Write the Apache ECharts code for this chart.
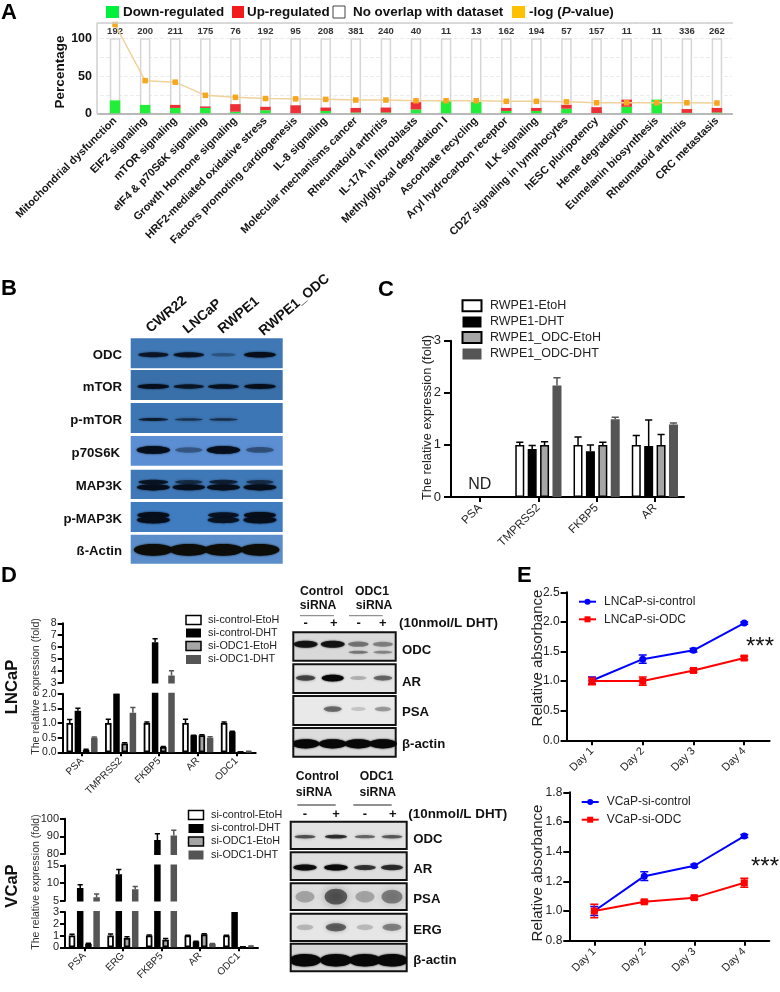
<!DOCTYPE html>
<html><head><meta charset="utf-8">
<script src="https://cdn.jsdelivr.net/npm/echarts@6/dist/echarts.min.js"></script>
<style>html,body{margin:0;padding:0;background:#fff}#c{width:780px;height:992px}</style>
</head><body><div id="c"></div>
<script>
// ---------- Panel A data
const pathways=["Mitochondrial dysfunction","EIF2 signaling","mTOR signaling","eIF4 & p70S6K signaling","Growth Hormone signaling","HRF2-mediated oxidative stress","Factors promoting cardiogenesis","IL-8 signaling","Molecular mechanisms cancer","Rheumatoid arthritis","IL-17A in fibroblasts","Methylglyoxal degradation I","Ascorbate recycling","Aryl hydrocarbon receptor","ILK signaling","CD27 signaling in lymphocytes","hESC pluripotency","Heme degradation","Eumelanin biosynthesis","Rheumatoid arthritis ","CRC metastasis"];
const pathwayCounts=[192,200,211,175,76,192,95,208,381,240,40,11,13,162,194,57,157,11,11,336,262];
const downReg=[18,12,8,8,3,5,0.5,4,2,2,6,18.5,16,4,4,7,1,9.5,19,1.5,2];
const upReg=[0,0,4,2,10,4.5,11,4.5,6,6.5,9.5,0,0,4,4,5,8,9.5,0,5,6];
const logP=[118,44,42,24.6,22,20.4,20,19.3,18.4,18.4,17.5,17.5,17.5,16.7,16.7,16,14.8,14.8,14.8,14.8,14.5];
// ---------- Panel C data
const cGenes=["PSA","TMPRSS2","FKBP5","AR"];
const cEtoh=[null,1,1,1], cDht=[null,0.92,0.88,0.98], cOdcEtoh=[null,1,1,1], cOdcDht=[null,2.14,1.49,1.39];
const cEtohErr=[null,1.05,1.15,1.18], cDhtErr=[null,0.99,1.0,1.48], cOdcEtohErr=[null,1.06,1.05,1.2], cOdcDhtErr=[null,2.29,1.53,1.42];
const cNames=["RWPE1-EtoH","RWPE1-DHT","RWPE1_ODC-EtoH","RWPE1_ODC-DHT"];
// ---------- Panel D data
const dNames=["si-control-EtoH","si-control-DHT","si-ODC1-EtoH","si-ODC1-DHT"];
const lnGenes=["PSA","TMPRSS2","FKBP5","AR","ODC1"];
const lnCtlEtoh=[1,1,1,1,1], lnCtlDht=[1.42,2.0,6.4,0.58,0.7], lnOdcEtoh=[0.08,0.3,0.18,0.58,0.01], lnOdcDht=[0.5,1.35,3.6,0.5,0.03];
const lnCtlEtohErr=[1.12,1.13,1.03,1.13,1.03], lnCtlDhtErr=[1.5,2.0,6.7,0.58,0.72], lnOdcEtohErr=[0.1,0.33,0.2,0.6,0.01], lnOdcDhtErr=[0.52,1.53,4.0,0.53,0.04];
const vcGenes=["PSA","ERG","FKBP5","AR","ODC1"];
const vcCtlEtoh=[1,1,1,1,1], vcCtlDht=[8.6,12.5,88,0.5,3.0], vcOdcEtoh=[0.3,0.8,0.65,1.1,0.05], vcOdcDht=[6,8.2,90.5,0.3,0.1];
const vcCtlEtohErr=[1.1,1.12,1.05,1.03,1.03], vcCtlDhtErr=[9.5,13.8,91.5,0.52,3.0], vcOdcEtohErr=[0.35,0.9,0.75,1.15,0.05], vcOdcDhtErr=[6.9,9,93.5,0.33,0.1];
// ---------- Panel E data
const days=["Day 1","Day 2","Day 3","Day 4"];
const lnSiCtl=[1.01,1.37,1.52,1.98], lnSiCtlErr=[0.06,0.07,0.03,0.02];
const lnSiOdc=[1,1,1.18,1.39], lnSiOdcErr=[0.06,0.07,0.03,0.03];
const vcSiCtl=[1,1.235,1.305,1.505], vcSiCtlErr=[0.03,0.03,0.01,0.01];
const vcSiOdc=[1,1.062,1.09,1.19], vcSiOdcErr=[0.045,0.01,0.01,0.03];
// ---------- Blot band strengths (one per lane)
const bOdc=[0.8,0.85,0.2,1], bMtor=[0.95,0.8,0.9,0.95], bPmtor=[0.75,0.55,0.6,0.02], bP70=[0.95,0.3,0.95,0.35];
const bMap3kUpper=[0.85,0.6,0.7,0.6], bMap3kLower=[1,0.95,1,1], bPmapUpper=[1,0,0.85,1], bPmapLower=[1,0,0.85,1], bActin=[1,1,1,1];
const d1Odc=[0.85,0.85,0.35,0.3], d1OdcLow=[0,0,0.35,0.28], d1Ar=[0.6,1,0.08,0.45], d1Psa=[0,0.65,0.05,0.35], d1Actin=[1,1,1,1];
const d2Odc=[0.55,0.7,0.45,0.5], d2Ar=[0.9,0.95,0.65,0.7], d2Psa=[0.25,0.8,0.25,0.55], d2Erg=[0.15,0.75,0.12,0.5], d2Actin=[1,1,1,1];

const FF='"Liberation Sans",Arial,sans-serif';
const grid=[],xAxis=[],yAxis=[],series=[],graphic=[];

function addGrid(l,t,w,h,extra){grid.push(Object.assign({left:l,top:t,width:w,height:h,containLabel:false},extra||{}));return grid.length-1;}
function txt(s,x,y,font,opt){opt=opt||{};graphic.push({type:'text',x:x,y:y,rotation:opt.rot||0,z:10,silent:true,
  style:{text:s,font:font,fill:opt.fill||'#111',align:opt.align||'left',verticalAlign:'middle'}});}
function rectG(x,y,w,h,fill,stroke,lw){graphic.push({type:'rect',z:10,silent:true,shape:{x:x,y:y,width:w,height:h},style:{fill:fill,stroke:stroke||null,lineWidth:lw||0}});}
function lineG(x1,y1,x2,y2,stroke,lw){graphic.push({type:'line',z:10,silent:true,shape:{x1:x1,y1:y1,x2:x2,y2:y2},style:{stroke:stroke,lineWidth:lw}});}

// error bars through the axes; offset is the bar's pixel shift from the category centre
function errSeries(g,lows,highs,offset,color,cap,lw,both){
  const data=[];lows.forEach((v,i)=>{if(v!=null&&highs[i]!=null)data.push([i,v,highs[i]]);});
  series.push({type:'custom',xAxisIndex:g,yAxisIndex:g,data:data,clip:true,z:5,silent:true,
    encode:{x:0,y:[1,2]},
    renderItem:function(p,api){
      const a=api.coord([api.value(0),api.value(1)]),b=api.coord([api.value(0),api.value(2)]);
      const x=a[0]+offset;const st={stroke:color,lineWidth:lw,fill:null};
      const kids=[{type:'line',shape:{x1:x,y1:a[1],x2:x,y2:b[1]},style:st},
                  {type:'line',shape:{x1:x-cap,y1:b[1],x2:x+cap,y2:b[1]},style:st}];
      if(both)kids.push({type:'line',shape:{x1:x-cap,y1:a[1],x2:x+cap,y2:a[1]},style:st});
      return {type:'group',children:kids};
    }});
}
const BARSTYLE=[{color:'#fff',borderColor:'#000'},{color:'#000',borderColor:'#000'},{color:'#a6a6a6',borderColor:'#000'},{color:'#555',borderColor:'#555'}];

function barPanel(g,vals,errs,w,sp,bw){
  vals.forEach((v,i)=>{
    series.push({type:'bar',xAxisIndex:g,yAxisIndex:g,data:v,barWidth:w,barGap:((sp/w-1)*100).toFixed(1)+'%',
      itemStyle:Object.assign({borderWidth:bw},BARSTYLE[i]),silent:true,z:3});
    errSeries(g,v,errs[i],(i-1.5)*sp,i===3?'#555':'#000',w*0.4,1.5,false);
  });
}
function valAxis(g,min,max,itv,fs,fmt,tick,margin){
  yAxis.push({type:'value',gridIndex:g,min:min,max:max,interval:itv,
    axisLine:{show:true,lineStyle:{color:'#000',width:2}},axisTick:{show:true,length:tick,lineStyle:{color:'#000',width:2}},
    axisLabel:{fontFamily:FF,fontSize:fs,color:'#222',margin:margin,formatter:fmt},splitLine:{show:false}});
}
function catAxis(g,cats,shown,fs,margin,tick){
  xAxis.push({type:'category',gridIndex:g,data:cats,boundaryGap:true,
    axisLine:{show:shown,onZero:false,lineStyle:{color:'#000',width:2}},
    axisTick:{show:shown,alignWithLabel:true,length:tick||5,lineStyle:{color:'#000',width:2}},
    axisLabel:{show:shown,interval:0,rotate:45,fontFamily:FF,fontSize:fs,color:'#222',margin:margin||6},splitLine:{show:false}});
}
function swatches(names,x,ys,w,h,tx,fs,lw){
  names.forEach((n,i)=>{
    const s=BARSTYLE[i];
    const bordered=i===0||i===2;
    rectG(x,ys[i]-h/2,w,h,s.color,bordered?'#000':s.color,bordered?lw:0);
    txt(n,tx,ys[i],fs+'px '+FF,{fill:'#222'});
  });
}
// western blot: rows = [{pos,h,w,levels,soft}] drawn as bands through its own axes
function blot(rect,bg,lanePos,rows,ink,border){
  const g=addGrid(rect[0],rect[1],rect[2],rect[3],{show:true,backgroundColor:bg,borderColor:border||'transparent',borderWidth:border?2:0});
  xAxis.push({type:'value',gridIndex:g,min:0,max:1,show:false});
  yAxis.push({type:'value',gridIndex:g,min:0,max:1,inverse:true,show:false});
  const data=[];
  rows.forEach(r=>r.levels.forEach((lv,i)=>{if(lv>0.02)data.push([lanePos[i],r.pos,lv,r.h,r.w,r.soft||0]);}));
  series.push({type:'custom',xAxisIndex:g,yAxisIndex:g,data:data,clip:true,silent:true,z:4,
    encode:{x:0,y:1},
    renderItem:function(p,api){
      const c=api.coord([api.value(0),api.value(1)]);
      const lv=api.value(2),soft=api.value(5);
      const h=api.value(3)*(0.55+0.45*lv),w=api.value(4)*(0.72+0.28*lv);
      const alpha=soft?(0.12+0.55*lv):(0.18+0.82*Math.pow(lv,1.2));
      const col='rgba('+ink+','+alpha.toFixed(2)+')';
      return {type:'ellipse',shape:{cx:c[0],cy:c[1],rx:w/2,ry:h*0.62},
        style:{fill:col,shadowBlur:soft||(lv>0.6?2:3),shadowColor:col}};
    }});
}

// ================= Panel A
(function(){
  const g=addGrid(100,23,632,91);
  xAxis.push({type:'category',gridIndex:g,data:pathways,
    axisLine:{show:true,lineStyle:{color:'#b5b5b5',width:1.5}},axisTick:{show:false},
    axisLabel:{interval:0,rotate:45,fontFamily:FF,fontSize:11,fontWeight:'bold',color:'#151515',margin:5}});
  yAxis.push({type:'value',gridIndex:g,min:0,max:120,interval:25,
    axisLine:{show:false},axisTick:{show:false},
    axisLabel:{fontFamily:FF,fontSize:12.5,fontWeight:'bold',color:'#111',margin:8,
      formatter:v=>(v===0||v===50||v===100)?String(v):''},
    splitLine:{show:true,lineStyle:{color:'#ececec',width:1,type:'dashed'}}});
  series.push({type:'bar',xAxisIndex:g,yAxisIndex:g,data:pathwayCounts.map(()=>100),barWidth:10.5,barGap:'-100%',silent:true,z:2,
    itemStyle:{color:'#fff',borderColor:'#d6d6d6',borderWidth:1.5},
    label:{show:true,position:'top',distance:2,fontFamily:'"Liberation Sans Narrow","Liberation Sans",sans-serif',fontSize:9.5,fontWeight:'bold',color:'#333',
      formatter:p=>pathwayCounts[p.dataIndex]}});
  series.push({type:'bar',stack:'o',xAxisIndex:g,yAxisIndex:g,data:downReg,barWidth:10.5,silent:true,z:3,itemStyle:{color:'#22ee3a'}});
  series.push({type:'bar',stack:'o',xAxisIndex:g,yAxisIndex:g,data:upReg,barWidth:10.5,silent:true,z:3,itemStyle:{color:'#ee2f36'}});
  series.push({type:'line',xAxisIndex:g,yAxisIndex:g,data:logP,symbol:'rect',symbolSize:5.5,silent:true,z:6,clip:false,
    lineStyle:{color:'#efd29b',width:1.5},itemStyle:{color:'#f5a71d'}});
  lineG(97,23,733,23,'#cfcfcf',1.5);lineG(97,114,733,114,'#b5b5b5',1.5);lineG(97,23,97,114,'#cfcfcf',1.5);
  txt('Percentage',60,72,'bold 13.5px '+FF,{rot:Math.PI/2,align:'center'});
  const f='bold 13.4px '+FF;
  rectG(106,6,13,12,'#00f03c');txt('Down-regulated',123,12,f);
  rectG(232,6,12,12,'#f21a1a');txt('Up-regulated',247,12,f);
  rectG(333,6,12,12,'#fff','#444',1);txt('No overlap with dataset',353,12,f);
  rectG(512,6,13,12,'#ffc000');
  graphic.push({type:'text',x:529,y:12,z:10,silent:true,style:{text:'-log ({i|P}-value)',font:f,fill:'#111',verticalAlign:'middle',
    rich:{i:{font:'italic bold 13.4px '+FF,fill:'#111'}}}});
})();

// ================= Panel B
(function(){
  const lanes=[0.149,0.382,0.61,0.85],ink='6,14,26',x=130.7,w=152;
  blot([x,338.3,w,30],'#3f78b4',lanes,[{pos:.55,h:4.5,w:32,levels:bOdc}],ink);
  blot([x,370,w,30],'#3a70aa',lanes,[{pos:.55,h:4,w:32,levels:bMtor}],ink);
  blot([x,403,w,30],'#3c76b4',lanes,[{pos:.55,h:2.6,w:32,levels:bPmtor}],ink);
  blot([x,436,w,29.7],'#5b8ed2',lanes,[{pos:.47,h:6.5,w:34,levels:bP70}],ink);
  blot([x,469.7,w,29.3],'#3f78b6',lanes,[{pos:.42,h:4,w:31,levels:bMap3kUpper},{pos:.6,h:5,w:33,levels:bMap3kLower}],ink);
  blot([x,502,w,30],'#3f7cc0',lanes,[{pos:.44,h:5,w:32,levels:bPmapUpper},{pos:.6,h:5.5,w:33,levels:bPmapLower}],ink);
  blot([x,534.7,w,29],'#5a8dc9',lanes,[{pos:.52,h:9.5,w:39,levels:bActin}],'12,12,8');
  const f='bold 13.2px '+FF;
  [['ODC',355],['mTOR',387],['p-mTOR',420],['p70S6K',453],['MAP3K',486],['p-MAP3K',519],['ß-Actin',551]].forEach(r=>txt(r[0],r[0]==='p70S6K'?120:122,r[1],f,{align:'right'}));
  const rot=40*Math.PI/180,fl='bold 13.8px '+FF;
  [['CWR22',148,330],['LNCaP',185,331],['RWPE1',220,331],['RWPE1_ODC',261,333]].forEach(r=>txt(r[0],r[1],r[2],fl,{rot:rot,align:'left'}));
})();

// ================= Panel C
(function(){
  const g=addGrid(451,340.7,233,156.3);
  catAxis(g,cGenes,true,11.5,9,5);
  valAxis(g,0,3,1,13,undefined,7,10);
  barPanel(g,[cEtoh,cDht,cOdcEtoh,cOdcDht],[cEtohErr,cDhtErr,cOdcEtohErr,cOdcDhtErr],9,12.4,1.5);
  swatches(cNames,462.5,[305.7,322,337.5,354],19,11,490,12.5,2);
  txt('ND',479.7,485,'16px '+FF,{align:'center',fill:'#222'});
  txt('The relative expression (fold)',427.7,417.5,'12.8px '+FF,{rot:Math.PI/2,align:'center',fill:'#222'});
})();

// ================= Panel D, LNCaP
(function(){
  const left=62.7,w=193;
  const vals=[lnCtlEtoh,lnCtlDht,lnOdcEtoh,lnOdcDht],errs=[lnCtlEtohErr,lnCtlDhtErr,lnOdcEtohErr,lnOdcDhtErr];
  let g=addGrid(left,623.3,w,59.4);
  catAxis(g,lnGenes,false,10);valAxis(g,3,8,1,10.5,undefined,5,6);
  barPanel(g,vals,errs,6.5,8.2,1.8);
  g=addGrid(left,693.7,w,58.6);
  catAxis(g,lnGenes,true,10,7,4);valAxis(g,0,2,0.5,10.5,v=>v.toFixed(1),5,6);
  barPanel(g,vals,errs,6.5,8.2,1.8);
  swatches(dNames,186,[620,633,646,659.5],15,9,208,10.8,1.5);
  txt('The relative expression (fold)',36,686.5,'10.6px '+FF,{rot:Math.PI/2,align:'center',fill:'#333'});
  txt('LNCaP',12,687,'bold 16.6px '+FF,{rot:Math.PI/2,align:'center'});
})();

// ================= Panel D, VCaP
(function(){
  const left=65,w=193;
  const vals=[vcCtlEtoh,vcCtlDht,vcOdcEtoh,vcOdcDht],errs=[vcCtlEtohErr,vcCtlDhtErr,vcOdcEtohErr,vcOdcDhtErr];
  let g=addGrid(left,818.7,w,35.3);
  catAxis(g,vcGenes,false,10);valAxis(g,80,100,10,11,undefined,5,6);
  barPanel(g,vals,errs,6.5,8.2,1.8);
  g=addGrid(left,865.3,w,35.4);
  catAxis(g,vcGenes,false,10);valAxis(g,5,15,5,11,undefined,5,6);
  barPanel(g,vals,errs,6.5,8.2,1.8);
  g=addGrid(left,912,w,35.3);
  catAxis(g,vcGenes,true,10,7,4);valAxis(g,0,3,1,11,undefined,5,6);
  barPanel(g,vals,errs,6.5,8.2,1.8);
  swatches(dNames,188.5,[815,828.5,841.5,855],15,9,211,10.8,1.5);
  txt('The relative expression (fold)',36,882,'10.5px '+FF,{rot:Math.PI/2,align:'center',fill:'#333'});
  txt('VCaP',12,886,'bold 16.6px '+FF,{rot:Math.PI/2,align:'center'});
})();

// ================= Blots in D
(function(){
  const ink='8,8,8',x1=293.3,w1=102.4,l1=[0.12,0.385,0.635,0.875];
  blot([x1,632.3,w1,28.4],'#d9d9d9',l1,[{pos:.42,h:6,w:25,levels:d1Odc},{pos:.7,h:3.5,w:24,levels:d1OdcLow}],ink,'#111');
  blot([x1,664.3,w1,28.7],'#e6e6e6',l1,[{pos:.48,h:5.5,w:22,levels:d1Ar}],ink,'#111');
  blot([x1,696,w1,29],'#e9e9e9',l1,[{pos:.45,h:5.5,w:20,levels:d1Psa,soft:3}],ink,'#111');
  blot([x1,728,w1,28.7],'#dcdcdc',l1,[{pos:.55,h:7.5,w:28,levels:d1Actin}],ink,'#111');
  const x2=290.7,w2=116,l2=[0.123,0.39,0.64,0.873];
  blot([x2,821.7,w2,27.3],'#e2e2e2',l2,[{pos:.55,h:3.5,w:24,levels:d2Odc}],ink,'#111');
  blot([x2,852.3,w2,27.7],'#dedede',l2,[{pos:.55,h:5,w:24,levels:d2Ar}],ink,'#111');
  blot([x2,883.3,w2,26.7],'#e0e0e0',l2,[{pos:.5,h:14,w:24,levels:d2Psa,soft:8}],ink,'#111');
  blot([x2,913.7,w2,27.3],'#e6e6e6',l2,[{pos:.5,h:7.5,w:22,levels:d2Erg,soft:4}],ink,'#111');
  blot([x2,943.7,w2,27.6],'#d6d6d6',l2,[{pos:.6,h:10,w:32,levels:d2Actin}],ink,'#111');
  const f='bold 12.2px '+FF,fd='bold 13.4px '+FF,fl='bold 13.2px '+FF,fp='bold 13px '+FF;
  txt('Control',321.7,592,f,{align:'center'});txt('siRNA',318,606,f,{align:'center'});
  txt('ODC1',372,592,f,{align:'center'});txt('siRNA',374,606,f,{align:'center'});
  lineG(300,615.7,334,615.7,'#777',1);lineG(349,615.7,382.7,615.7,'#777',1);
  [['-',305.7],['+',333.7],['-',358.7],['+',382.7]].forEach(r=>txt(r[0],r[1],623,fp,{align:'center'}));
  txt('(10nmol/L DHT)',399,623,fd);
  [['ODC',650],['AR',682],['PSA',712],['β-actin',744]].forEach(r=>txt(r[0],402,r[1],fl));
  txt('Control',317.3,777,f,{align:'center'});txt('siRNA',314,792.7,f,{align:'center'});
  txt('ODC1',376.7,777,f,{align:'center'});txt('siRNA',377.7,792.7,f,{align:'center'});
  lineG(297.3,805,335.7,805,'#222',1);lineG(353.3,805,391.7,805,'#222',1);
  [['-',305],['+',336],['-',365],['+',392.7]].forEach(r=>txt(r[0],r[1],814,fp,{align:'center'}));
  txt('(10nmol/L DHT)',408.3,814,fd);
  [['ODC',839],['AR',869.3],['PSA',899.3],['ERG',930.3],['β-actin',960.7]].forEach(r=>txt(r[0],413.3,r[1],fl));
})();

// ================= Panel E
function curves(rect,min,max,itv,fmt,a,aE,b,bE,names,legX,legY,starY,starX){
  const g=addGrid(rect[0],rect[1],rect[2],rect[3]);
  catAxis(g,days,true,11,9,5);
  valAxis(g,min,max,itv,12,fmt,6,7);
  const mk=(v,e,col,sym,sz)=>{
    errSeries(g,v.map((d,i)=>d-e[i]),v.map((d,i)=>d+e[i]),0,col,4,1.5,true);
    series.push({type:'line',xAxisIndex:g,yAxisIndex:g,data:v,symbol:sym,symbolSize:sz,silent:true,z:6,
      lineStyle:{color:col,width:2},itemStyle:{color:col}});
  };
  mk(a,aE,'#0000ff','circle',7);mk(b,bE,'#ff0000','rect',7);
  [['#0000ff','circle'],['#ff0000','rect']].forEach((c,i)=>{
    const y=legY[i],x=legX;
    lineG(x,y,x+17,y,c[0],2);
    if(c[1]==='circle')graphic.push({type:'circle',z:10,silent:true,shape:{cx:x+8.5,cy:y,r:3},style:{fill:c[0]}});
    else rectG(x+5.5,y-3,6,6,c[0]);
    txt(names[i],x+25,y,'12px '+FF,{fill:'#222'});
  });
  txt('***',starX,starY,'24px '+FF,{align:'center',fill:'#111'});
}
curves([566.6,592.3,203,148],0,2.5,0.5,v=>v.toFixed(1),lnSiCtl,lnSiCtlErr,lnSiOdc,lnSiOdcErr,['LNCaP-si-control','LNCaP-si-ODC'],579,[601.7,619.3],647,760);
curves([569.3,792.3,200,148.4],0.8,1.8,0.2,v=>v.toFixed(1),vcSiCtl,vcSiCtlErr,vcSiOdc,vcSiOdcErr,['VCaP-si-control','VCaP-si-ODC'],581.7,[802,819.7],867,765);
txt('Relative absorbance',538,658,'15px '+FF,{rot:Math.PI/2,align:'center',fill:'#222'});
txt('Relative absorbance',538,873,'15px '+FF,{rot:Math.PI/2,align:'center',fill:'#222'});

// Panel letters
[['A',1,13],['B',1,289],['C',378,290],['D',1,576],['E',517,576]].forEach(r=>txt(r[0],r[1],r[2],'bold 22px '+FF,{fill:'#000'}));

const chart=echarts.init(document.getElementById('c'),null,{renderer:'canvas'});
chart.setOption({animation:false,backgroundColor:'#fff',grid:grid,xAxis:xAxis,yAxis:yAxis,series:series,graphic:{elements:graphic}});
</script></body></html>
